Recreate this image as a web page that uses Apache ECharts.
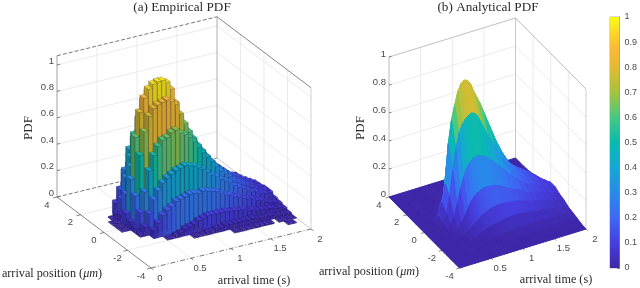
<!DOCTYPE html>
<html><head><meta charset="utf-8">
<style>html,body{margin:0;padding:0;background:#fff}#c{width:640px;height:288px;filter:blur(0.3px)}</style>
<script src="https://cdn.jsdelivr.net/npm/echarts@6/dist/echarts.min.js"></script>
</head><body><div id="c"></div>
<script>
// ---------- tick labels ----------
const zTicks = [0, 0.2, 0.4, 0.6, 0.8, 1];
const posTicks = [-4, -2, 0, 2, 4];
const timeTicksA = [0, 0.5, 1, 1.5, 2];
const timeTicksB = [0.5, 1, 1.5, 2];
const colorbarMin = 0, colorbarMax = 1, colorbarStep = 0.1;

// ---------- (a) Empirical PDF: histogram bins ----------
const binTimeWidth = 1 / 18;   // 36 bins over 0..2 s
const binPosWidth = 0.4;
const empiricalPos = [-3, -2.6, -2.2, -1.8, -1.4, -1, -0.6, -0.2, 0.2, 0.6, 1, 1.4, 1.8, 2.2, 2.6, 3];
const empiricalPdf = [
[0,0,0,0,0,0,0,0,0,0,0,0,0,0,0,0,0,0,0,0,0,0,0,0,0,0,0,0,0,0,0,0,0,.005,.005,0],
[0,0,0,0,0,0,0,0,0,0,0,0,0,0,0,0,0,0,0,0,0,0,.005,.005,.01,.01,.01,.016,.016,.016,.01,0,.01,.01,.005,.005],
[0,0,0,0,0,0,0,0,0,0,0,0,0,0,.005,.01,.01,.02,.02,.03,.03,.04,.04,.04,.04,.04,.04,.04,.03,.03,.03,.03,.02,.02,.02,.016],
[0,0,0,0,0,0,0,0,0,.005,.01,.02,.03,.05,.06,.07,.09,.1,.11,.11,.11,.11,.11,.1,.1,.09,.09,.07,.07,.06,.06,.05,.05,.04,.04,.03],
[0,0,0,0,0,0,0,.06,.11,.16,.19,.21,.24,.25,.26,.27,.27,.26,.27,.26,.25,.24,.22,.2,.19,.17,.16,.14,.13,.12,.1,.09,.07,.06,.05,.04],
[0,0,0,0,0,.02,.07,.16,.26,.32,.37,.4,.42,.44,.45,.46,.45,.44,.42,.4,.37,.34,.32,.29,.27,.25,.22,.2,.18,.16,.14,.13,.11,.1,.07,.05],
[0,0,0,0,0,.04,.15,.3,.45,.56,.62,.66,.67,.7,.71,.68,.66,.63,.59,.54,.49,.45,.41,.36,.32,.29,.26,.22,.2,.18,.16,.14,.12,.1,.09,.07],
[0,0,0,.005,.01,.06,.25,.55,.72,.83,.88,.9,.91,.92,.9,.87,.79,.71,.64,.58,.52,.47,.42,.37,.33,.3,.27,.24,.2,.18,.16,.14,.12,.1,.09,.07],
[0,0,0,.005,.01,.1,.35,.66,.84,.94,1.0,1.03,1.04,1.04,1.02,.96,.85,.73,.64,.58,.52,.47,.42,.37,.33,.3,.27,.24,.21,.19,.17,.15,.13,.11,.09,.06],
[0,0,0,.005,.01,.06,.21,.41,.59,.76,.88,.94,.96,.98,.96,.9,.79,.7,.61,.54,.47,.42,.37,.33,.29,.26,.24,.2,.18,.16,.14,.12,.1,.09,.06,.05],
[0,0,0,0,.01,.04,.15,.3,.45,.61,.71,.77,.81,.81,.8,.75,.67,.6,.52,.46,.41,.35,.31,.28,.25,.21,.19,.17,.15,.13,.11,.1,.07,.06,.05,.03],
[0,0,0,0,0,0,.09,.18,.32,.47,.54,.58,.59,.6,.59,.56,.5,.45,.4,.35,.31,.27,.24,.21,.18,.16,.14,.12,.11,.1,.07,.06,.05,.04,.03,.02],
[0,0,0,0,0,0,0,0,.15,.27,.32,.34,.35,.36,.35,.33,.3,.27,.24,.21,.18,.16,.14,.12,.11,.1,.09,.06,.05,.05,.04,.03,.02,.02,.01,.01],
[0,0,0,0,0,0,0,0,0,0,.14,.16,.17,.18,.18,.17,.15,.14,.12,.11,.1,.09,.07,.06,.05,.04,.04,.03,.03,.02,.02,.01,.01,.01,.005,.005],
[0,0,0,0,0,0,0,0,0,0,0,0,0,.07,.07,.06,.06,.05,.05,.04,.04,.03,.03,.02,.02,.02,.01,.01,.01,.01,.005,.005,0,0,0,0],
[0,0,0,0,0,0,0,0,0,0,0,0,0,0,0,0,0,.02,.01,.01,.01,.01,.005,.005,.005,.005,0,0,0,0,0,0,0,0,0,0]
];

// ---------- (b) Analytical PDF: surface nodes ----------
const analyticalTime = [0,.1,.2,.25,.3,.35,.4,.45,.5,.55,.6,.65,.7,.75,.8,.85,.9,.95,1,1.1,1.2,1.3,1.4,1.5,1.6,1.7,1.8,1.9,2];
const analyticalPos = [-4,-3.5,-3,-2.5,-2,-1.5,-1,-.5,0,.5,1,1.5,2,2.5,3,3.5,4];
const analyticalPdf = [
[0,0,0,0,0,0,0,0,0,0,0,0,0,0,0,0,0,0,0,0,0,0,0,0,0,0,0,0,0],
[0,0,0,0,0,0,0,0,0,0,0,0,0,0,0,0,0,0,0,0,0,0,0,.002,.002,.003,.003,.003,.003],
[0,0,0,0,0,0,0,0,0,0,0,0,0,0,0,0,.002,.003,.004,.006,.008,.01,.012,.014,.015,.015,.015,.014,.013],
[0,0,0,0,0,0,0,0,0,0,0,.003,.005,.008,.012,.015,.02,.023,.026,.03,.034,.036,.038,.038,.037,.035,.032,.028,.022],
[0,0,0,0,0,0,0,.005,.01,.02,.03,.04,.05,.06,.065,.07,.075,.08,.085,.09,.09,.085,.08,.07,.065,.055,.05,.04,.03],
[0,0,0,0,0,0,.01,.02,.04,.06,.08,.1,.12,.13,.14,.15,.155,.16,.16,.155,.15,.14,.125,.11,.1,.085,.075,.06,.05],
[0,0,0,0,0,.01,.03,.07,.11,.16,.2,.23,.25,.26,.27,.27,.27,.27,.26,.24,.21,.19,.17,.14,.12,.11,.09,.08,.06],
[0,0,0,0,.01,.04,.09,.17,.27,.35,.41,.44,.46,.47,.47,.46,.45,.43,.41,.36,.31,.26,.22,.18,.15,.13,.11,.09,.08],
[0,0,0,0,.02,.08,.2,.38,.53,.63,.69,.72,.74,.75,.74,.71,.66,.61,.56,.47,.39,.31,.25,.2,.17,.14,.12,.09,.08],
[0,0,0,0,.04,.13,.26,.54,.7,.8,.89,.94,.96,.95,.92,.86,.81,.76,.7,.58,.46,.36,.28,.22,.18,.15,.12,.09,.06],
[0,0,0,0,0,0,.04,.15,.38,.52,.62,.7,.76,.8,.8,.78,.74,.69,.64,.53,.43,.34,.27,.22,.18,.15,.12,.08,.04],
[0,0,0,0,0,0,0,.01,.05,.14,.26,.36,.43,.48,.5,.49,.47,.45,.42,.36,.3,.25,.2,.17,.14,.12,.09,.06,.02],
[0,0,0,0,0,0,0,0,0,.01,.04,.1,.16,.21,.25,.27,.27,.26,.25,.22,.19,.16,.14,.12,.1,.08,.06,.03,.01],
[0,0,0,0,0,0,0,0,0,0,0,.01,.04,.07,.1,.12,.13,.12,.12,.11,.09,.08,.07,.06,.05,.04,.03,.01,.005],
[0,0,0,0,0,0,0,0,0,0,0,0,0,0,.01,.02,.03,.04,.04,.04,.03,.03,.02,.02,.02,.01,.01,.005,0],
[0,0,0,0,0,0,0,0,0,0,0,0,0,0,0,.002,.004,.006,.008,.007,.005,.004,.003,.002,.002,.001,.001,0,0],
[0,0,0,0,0,0,0,0,0,0,0,0,0,0,0,0,0,0,0,0,0,0,0,0,0,0,0,0,0]
];

// ---------- colour map (stop position, r, g, b) ----------
const parula = [
[0,62,38,168],[.1,70,62,224],[.2,62,104,245],[.3,40,138,235],[.4,22,168,212],
[.5,8,186,176],[.6,72,200,130],[.7,165,195,62],[.8,228,186,50],[.87,250,184,58],[.93,252,212,42],[1,249,251,21]
];
function colorAt(v, k) {
  v = Math.max(0, Math.min(1, v)); k = k || 1;
  for (let i = 1; i < parula.length; i++) {
    if (v <= parula[i][0]) {
      const a = parula[i-1], b = parula[i], f = (v - a[0]) / (b[0] - a[0]);
      return 'rgb(' + [1,2,3].map(c => Math.round((a[c] + (b[c]-a[c])*f) * k)).join(',') + ')';
    }
  }
  return 'rgb(249,251,21)';
}

// ---------- oblique projection of each 3-D box onto the page ----------
const panelA = {ox:151, oy:268, tx:160, ty:-39, px:-94, py:-71, zs:132, zMax:1.07};
const panelB = {ox:459.5, oy:268, tx:126.5, ty:-39, px:-70.5, py:-71, zs:140, zMax:1};
function proj(P, t, p, z) {
  return [P.ox + t/2*P.tx + (p+4)/8*P.px, P.oy + t/2*P.ty + (p+4)/8*P.py - z*P.zs];
}
function polyOf(api, P, pts, style) {
  return {type:'polygon', shape:{points:pts.map(q => api.coord(proj(P, q[0], q[1], q[2])))}, style};
}

// ---------- frame, wall grid and ticks ----------
const gridCol = '#e6e6e6';
function frameSegments(P, tTicks, strong) {
  const Z = P.zMax, s = [];
  const add = (a, b, col, w, dash) => s.push([a[0],a[1],a[2],b[0],b[1],b[2],col,w,dash||'']);
  tTicks.forEach(t => { if (t>0 && t<2) { add([t,-4,0],[t,4,0],gridCol,.8); add([t,4,0],[t,4,Z],gridCol,.8); } });
  posTicks.forEach(p => { if (p>-4 && p<4) { add([0,p,0],[2,p,0],gridCol,.8); add([2,p,0],[2,p,Z],gridCol,.8); } });
  zTicks.forEach(z => { if (z>0) { add([0,4,z],[2,4,z],gridCol,.8); add([2,4,z],[2,-4,z],gridCol,.8); } });
  if (strong) {
    add([0,4,Z],[2,4,Z],'#555',.8,'4,2');
    add([0,4,0],[2,4,0],'#555',.8,'4,2');
    add([0,-4,0],[2,-4,0],'#555',.8,'5,2,1,2');
    add([2,4,Z],[2,-4,Z],'#777',.9);
    add([2,4,0],[2,4,Z],'#999',.8);
  } else {
    add([0,4,Z],[2,4,Z],'#bbb',.8);
    add([0,4,0],[2,4,0],'#bbb',.8);
    add([0,-4,0],[2,-4,0],'#888',.8);
    add([2,4,Z],[2,-4,Z],'#bbb',.9);
    add([2,4,0],[2,4,Z],'#bbb',.8);
  }
  add([0,4,0],[0,-4,0],'#777',.9);
  add([0,4,0],[0,4,Z],strong?'#888':'#aaa',.8);
  add([2,4,0],[2,-4,0],'#bbb',.8);
  add([2,-4,0],[2,-4,Z],'#c4c4c4',.8);
  posTicks.forEach(p => add([0,p,0],[-.05,p,0],'#666',.8));
  tTicks.forEach(t => add([t,-4,0],[t,-4.2,0],'#666',.8));
  zTicks.forEach(z => add([0,4,z],[.04,4,z],'#666',.8));
  return s;
}
function frameSeries(P, tTicks, strong) {
  const segs = frameSegments(P, tTicks, strong);
  return {type:'custom', coordinateSystem:'cartesian2d', xAxisIndex:0, yAxisIndex:0, silent:true, animation:false,
    data: segs,
    renderItem:(params, api) => {
      const d = segs[params.dataIndex];
      const a = api.coord(proj(P,d[0],d[1],d[2])), b = api.coord(proj(P,d[3],d[4],d[5]));
      return {type:'line', shape:{x1:a[0],y1:a[1],x2:b[0],y2:b[1]},
        style:{stroke:d[6],lineWidth:d[7],lineDash:d[8]?d[8].split(',').map(Number):null,fill:null}};
    }};
}
const tickFont = '9.5px "Liberation Sans", Arial, sans-serif';
function labelSeries(P, tTicks, zOff) {
  const items = [];
  zTicks.forEach(z => items.push({k:'z', v:z}));
  posTicks.forEach(p => items.push({k:'p', v:p}));
  tTicks.forEach(t => items.push({k:'t', v:t}));
  return {type:'custom', coordinateSystem:'cartesian2d', xAxisIndex:0, yAxisIndex:0, silent:true, animation:false,
    data: items.map((it,i) => [i, it.v]),
    renderItem:(params, api) => {
      const it = items[params.dataIndex];
      let q, dx, dy, align;
      if (it.k==='z') { q = proj(P,0,4,it.v); dx=-3; dy=zOff; align='right'; }
      else if (it.k==='p') { q = proj(P,0,it.v,0); dx=-10; dy=8; align='center'; }
      else { q = proj(P,it.v,-4,0); dx=9; dy=10; align='center'; }
      const c = api.coord(q);
      return {type:'text', x:c[0]+dx, y:c[1]+dy,
        style:{text:String(it.v), font:tickFont, fill:'#4a4a4a', align, verticalAlign:'middle'}};
    }};
}

// ---------- marks ----------
const barFill = 0.92;
const barData = [];
for (let r = empiricalPos.length-1; r >= 0; r--) {
  for (let k = empiricalPdf[r].length-1; k >= 0; k--) {
    const v = empiricalPdf[r][k];
    if (v > 0) barData.push([(k+.5)*binTimeWidth, empiricalPos[r], v]);
  }
}
const barSeries = {type:'custom', coordinateSystem:'cartesian2d', xAxisIndex:0, yAxisIndex:0, silent:true, animation:false, clip:false,
  data: barData,
  renderItem:(params, api) => {
    const t = api.value(0), p = api.value(1), z = api.value(2);
    const ht = binTimeWidth*barFill/2, hp = binPosWidth*barFill/2, P = panelA;
    const f = z / P.zMax, edge = 'rgba(25,20,60,0.42)';
    const t0=t-ht, t1=t+ht, p0=p-hp, p1=p+hp;
    return {type:'group', children:[
      polyOf(api,P,[[t0,p0,0],[t0,p1,0],[t0,p1,z],[t0,p0,z]],{fill:colorAt(f,.72),stroke:edge,lineWidth:.4}),
      polyOf(api,P,[[t0,p0,0],[t1,p0,0],[t1,p0,z],[t0,p0,z]],{fill:colorAt(f,.85),stroke:edge,lineWidth:.4}),
      polyOf(api,P,[[t0,p0,z],[t1,p0,z],[t1,p1,z],[t0,p1,z]],{fill:colorAt(f,.96),stroke:edge,lineWidth:.4})
    ]};
  }};

const surfData = [];
for (let r = analyticalPos.length-2; r >= 0; r--) {
  for (let c = analyticalTime.length-2; c >= 0; c--) {
    surfData.push([analyticalTime[c],analyticalTime[c+1],analyticalPos[r],analyticalPos[r+1],
      analyticalPdf[r][c],analyticalPdf[r][c+1],analyticalPdf[r+1][c],analyticalPdf[r+1][c+1]]);
  }
}
const surfSeries = {type:'custom', coordinateSystem:'cartesian2d', xAxisIndex:0, yAxisIndex:0, silent:true, animation:false, clip:false,
  data: surfData,
  renderItem:(params, api) => {
    const v = [0,1,2,3,4,5,6,7].map(i => api.value(i)), P = panelB;
    const col = colorAt((v[4]+v[5])/2*.85 + (v[6]+v[7])/2*.15);
    return polyOf(api,P,[[v[0],v[2],v[4]],[v[1],v[2],v[5]],[v[1],v[3],v[7]],[v[0],v[3],v[6]]],
      {fill:col,stroke:col,lineWidth:1,lineJoin:'round'});
  }};

// ---------- colour bar ----------
const gradientStops = parula.map(s => ({offset:s[0], color:'rgb('+s[1]+','+s[2]+','+s[3]+')'}));
const colorbarSeries = {type:'bar', xAxisIndex:1, yAxisIndex:1, data:[colorbarMax], barWidth:'100%', silent:true, animation:false,
  itemStyle:{color:{type:'linear',x:0,y:1,x2:0,y2:0,colorStops:gradientStops}}};

// ---------- text ----------
const serif = '"Liberation Serif", "Times New Roman", serif';
function caption(text, x, y, size, rot, rich) {
  return {type:'text', x, y, rotation:rot||0, silent:true,
    style:Object.assign({text, font:size+'px '+serif, fill:'#2a2a2a', align:'center', verticalAlign:'middle'}, rich?{rich}:{})};
}
const posRich = {a:{fontFamily:'Liberation Serif',fontSize:12.2,color:'#2a2a2a'}, b:{fontFamily:'Liberation Serif',fontSize:12.2,fontStyle:'italic',color:'#2a2a2a'}};
const posName = '{a|arrival position (}{b|μm}{a|)}';

const chart = echarts.init(document.getElementById('c'), null, {renderer:'canvas'});
chart.setOption({
  animation:false,
  backgroundColor:'#fff',
  grid:[{left:0,top:0,width:640,height:288,containLabel:false},{left:610,top:17,width:14,height:251,show:true,borderColor:'#999',borderWidth:.8,containLabel:false}],
  xAxis:[{type:'value',min:0,max:640,show:false},{type:'category',gridIndex:1,data:[''],show:false}],
  yAxis:[{type:'value',min:0,max:288,inverse:true,show:false},
    {type:'value',gridIndex:1,min:colorbarMin,max:colorbarMax,interval:colorbarStep,position:'right',
     axisLine:{show:true,lineStyle:{color:'#888',width:.8}},axisTick:{show:true,inside:true,length:2,lineStyle:{color:'#555',width:.8}},
     splitLine:{show:false},axisLabel:{fontFamily:'Liberation Sans',fontSize:9,color:'#4a4a4a',margin:5}}],
  series:[
    frameSeries(panelA,timeTicksA,true),
    barSeries,
    labelSeries(panelA,timeTicksA,-4),
    frameSeries(panelB,timeTicksB,false),
    surfSeries,
    labelSeries(panelB,timeTicksB,-3),
    colorbarSeries
  ],
  graphic:[
    caption('(a) Empirical PDF',182,8,13.2),
    caption('(b) Analytical PDF',488,8,13.2),
    caption('PDF',29,128,13,Math.PI/2),
    caption('PDF',361,128,13,Math.PI/2),
    caption(posName,52,274,12.2,0,posRich),
    caption(posName,369,272,12.2,0,posRich),
    caption('arrival time (s)',254,281,12.2),
    caption('arrival time (s)',556,280,12.2)
  ]
});
</script></body></html>
